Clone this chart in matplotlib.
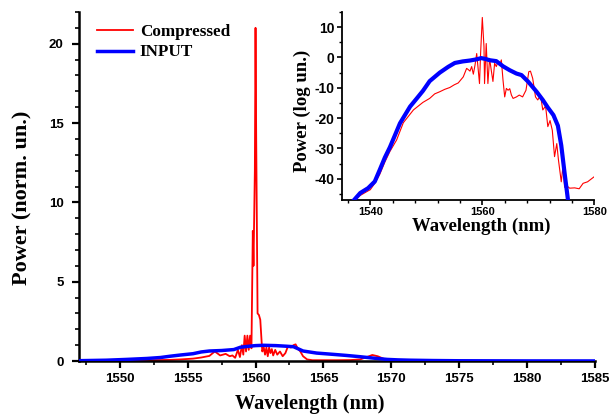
import matplotlib
matplotlib.use("Agg")
import matplotlib.pyplot as plt
from matplotlib.ticker import MultipleLocator
import numpy as np

plt.rcParams["axes.unicode_minus"] = False

# ---- main panel data (linear, normalised) ----
comp_wl = [1547, 1549, 1551, 1553, 1553.7, 1554.5, 1555.4, 1556.0, 1556.6, 1557.0, 1557.4,
           1557.8, 1558.1, 1558.3, 1558.5, 1558.7, 1558.85, 1559.0, 1559.1, 1559.2, 1559.3,
           1559.4, 1559.5, 1559.6, 1559.7, 1559.8, 1559.85, 1559.95, 1560.0, 1560.05, 1560.15,
           1560.25, 1560.35, 1560.45, 1560.5, 1560.6, 1560.7, 1560.8, 1560.9, 1561.0, 1561.1,
           1561.2, 1561.3, 1561.45, 1561.6, 1561.8, 1562.0, 1562.2, 1562.4, 1562.6, 1562.8,
           1562.95, 1563.1, 1563.3, 1563.5, 1563.8, 1564.2, 1565, 1566, 1567, 1567.7, 1568.2,
           1568.6, 1569.0, 1569.6, 1570.5, 1572, 1575, 1580, 1585]
comp_p = [0.01, 0.02, 0.04, 0.06, 0.07, 0.1, 0.15, 0.22, 0.32, 0.6, 0.35,
          0.45, 0.3, 0.35, 0.2, 0.7, 0.25, 1.0, 0.4, 1.6, 0.6,
          1.6, 0.7, 1.6, 0.8, 8.2, 6.0, 12.0, 21.0, 14.0, 3.0,
          2.9, 2.6, 1.2, 0.6, 0.9, 0.4, 0.85, 0.3, 0.85, 0.5,
          0.75, 0.35, 0.7, 0.4, 0.6, 0.3, 0.5, 0.95, 0.85, 1.0,
          1.05, 0.8, 0.6, 0.3, 0.1, 0.05, 0.05, 0.05, 0.06, 0.1, 0.25,
          0.38, 0.3, 0.08, 0.04, 0.02, 0.01, 0.005, 0.003]

inp_wl = [1547, 1549, 1550.5, 1552, 1553, 1553.7, 1554.5, 1555.4, 1556.0, 1556.6, 1557.5,
          1558.4, 1558.9, 1559.5, 1560.0, 1560.6, 1561.5, 1562.3, 1562.8, 1563.5, 1564.5,
          1565.7, 1566.7, 1567.7, 1568.7, 1569.7, 1570.5, 1571.4, 1573, 1575, 1580, 1585]
inp_p = [0.02, 0.05, 0.1, 0.16, 0.22, 0.3, 0.38, 0.46, 0.57, 0.63, 0.66,
         0.72, 0.87, 0.93, 0.97, 0.99, 0.97, 0.93, 0.9, 0.63, 0.5,
         0.42, 0.35, 0.27, 0.18, 0.1, 0.07, 0.05, 0.03, 0.015, 0.005, 0.003]

# ---- inset data (log units, dB) ----
comp_db_wl = [1537.0, 1538.2, 1539.6, 1540.0, 1540.8, 1541.7, 1542.6, 1543.5, 1544.7, 1545.9,
              1547.7, 1549.4, 1550.6, 1551.5, 1552.4, 1553.3, 1554.2, 1555.0, 1555.7, 1556.6,
              1557.2, 1557.5, 1557.8, 1558.1, 1558.4, 1558.7, 1559.0, 1559.2, 1559.5, 1559.7,
              1560.0, 1560.3, 1560.4, 1560.7, 1561.0, 1561.3, 1561.6, 1561.9, 1562.2, 1562.5,
              1562.8, 1563.1, 1563.4, 1563.7, 1564.0, 1564.3, 1564.6, 1564.9, 1565.2, 1565.5,
              1566.1, 1566.6, 1567.2, 1567.8, 1568.3, 1568.6, 1569.0, 1569.5, 1569.9, 1570.4,
              1570.8, 1571.3, 1571.7, 1572.1, 1572.5, 1572.9, 1573.3, 1573.6, 1574.1, 1574.4,
              1574.7, 1575.2, 1575.6, 1576.5, 1577.3, 1578.0, 1578.8, 1580.0]
comp_db = [-47, -45.5, -44.0, -43.6, -41.5, -38.5, -34.5, -31.0, -27.2, -21.5,
           -17.3, -14.8, -13.5, -12.0, -11.3, -10.5, -9.9, -9.0, -8.4, -6.4,
           -3.6, -4.0, -4.5, -3.0, -5.5, -2.5, 1.3, -2.6, -8.6, 1.5,
           13.2, 3.5, -8.6, 4.6, -8.6, -0.3, -4.2, -7.9, -1.9, -3.0,
           -1.4, -2.5, -0.8, -7.5, -13.0, -10.2, -10.8, -10.3, -12.4, -13.5,
           -13.0, -12.4, -13.0, -10.8, -4.7, -4.5, -6.9, -13.0, -14.0, -12.5,
           -17.3, -16.0, -22.8, -20.8, -24.0, -32.7, -28.4, -33.8, -41.0, -36.0,
           -42.8, -42.5, -43.1, -43.0, -43.3, -41.5, -41.0, -39.3]

inp_db_wl = [1537.1, 1538.2, 1539.6, 1540.8, 1541.7, 1542.6, 1543.5, 1545.3, 1547.1, 1548.3,
             1549.4, 1550.6, 1552.4, 1553.9, 1555.1, 1556.5, 1557.8, 1559.0, 1559.8, 1560.6,
             1561.3, 1562.5, 1563.7, 1564.9, 1566.1, 1567.0, 1568.2, 1569.7, 1570.8, 1571.7,
             1572.7, 1573.5, 1574.1, 1574.7, 1575.3]
inp_db = [-47, -44.7, -43.1, -40.9, -37.0, -33.0, -29.6, -21.7, -16.2, -13.5,
          -11.0, -7.8, -5.0, -3.1, -1.8, -1.3, -1.0, -0.6, -0.2, -0.5,
          -0.9, -1.2, -2.9, -4.2, -5.3, -5.8, -8.0, -11.3, -14.0, -16.5,
          -19.0, -22.5, -29.0, -38.2, -47]

RED = "#ff0000"
BLUE = "#0000ff"
SERIF = ["Liberation Serif", "DejaVu Serif"]
SANS = ["Liberation Sans", "DejaVu Sans"]

fig = plt.figure(figsize=(6.09, 4.16), dpi=100)

ax = fig.add_axes([79/609, 1 - 361/416, (595 - 79)/609, (361 - 12)/416])
ax.plot(comp_wl, comp_p, color=RED, lw=1.3, label="Compressed", zorder=2)
ax.plot(inp_wl, inp_p, color=BLUE, lw=2.5, label="INPUT", zorder=3)
ax.set_xlim(1547, 1585)
ax.set_ylim(0, 22)
ax.xaxis.set_major_locator(MultipleLocator(5))
ax.xaxis.set_minor_locator(MultipleLocator(2.5))
ax.yaxis.set_major_locator(MultipleLocator(5))
ax.yaxis.set_minor_locator(MultipleLocator(1))
for s in ["top", "right"]:
    ax.spines[s].set_visible(False)
for s in ["left", "bottom"]:
    ax.spines[s].set_linewidth(1.8)
ax.tick_params(which="major", direction="out", length=5, width=1.6, pad=6)
ax.tick_params(axis="x", which="major", pad=4)
ax.tick_params(which="minor", direction="out", length=3, width=1.2)
for lab in ax.get_xticklabels() + ax.get_yticklabels():
    lab.set_family(SANS)
    lab.set_fontweight("bold")
    lab.set_fontsize(9.5)
ax.set_xlabel("Wavelength (nm)", family=SERIF, fontweight="bold", fontsize=14.6, labelpad=6)
ax.xaxis.label.set_x(0.448)
ax.set_ylabel("Power (norm. un.)", family=SERIF, fontweight="bold", fontsize=16)
ax.yaxis.set_label_coords(-0.091, 0.467)
leg = ax.legend(loc="upper left", bbox_to_anchor=(0.035, 0.965), frameon=False,
                borderaxespad=0, borderpad=0,
                prop={"family": SERIF, "weight": "bold", "size": 12.3},
                handlelength=2.1, handletextpad=0.4, labelspacing=0.25)

axi = fig.add_axes([342.3/609, 1 - 200/416, (594.3 - 342.3)/609, (200 - 12)/416])
axi.plot(comp_db_wl, comp_db, color=RED, lw=0.8, zorder=2)
axi.plot(inp_db_wl, inp_db, color=BLUE, lw=3.0, zorder=3)
axi.set_xlim(1535, 1580)
axi.set_ylim(-47, 15)
axi.xaxis.set_major_locator(MultipleLocator(20))
axi.xaxis.set_minor_locator(MultipleLocator(4))
axi.yaxis.set_major_locator(MultipleLocator(10))
axi.yaxis.set_minor_locator(MultipleLocator(5))
for s in ["top", "right"]:
    axi.spines[s].set_visible(False)
for s in ["left", "bottom"]:
    axi.spines[s].set_linewidth(1.3)
axi.tick_params(which="major", direction="out", length=3.5, width=1.2, pad=2)
axi.tick_params(axis="x", which="major", pad=1.5)
axi.tick_params(which="minor", direction="out", length=2.2, width=1.0)
for lab in axi.get_xticklabels():
    lab.set_family(SANS)
    lab.set_fontweight("bold")
    lab.set_fontsize(8)
for lab in axi.get_yticklabels():
    lab.set_family(SANS)
    lab.set_fontweight("bold")
    lab.set_fontsize(10)
axi.set_xlabel("Wavelength (nm)", family=SERIF, fontweight="bold", fontsize=13.5, labelpad=0.5)
axi.xaxis.label.set_x(0.55)
axi.set_ylabel("Power (log un.)", family=SERIF, fontweight="bold", fontsize=13.5)
axi.yaxis.set_label_coords(-0.125, 0.473)

fig.savefig("out.png", dpi=100)
